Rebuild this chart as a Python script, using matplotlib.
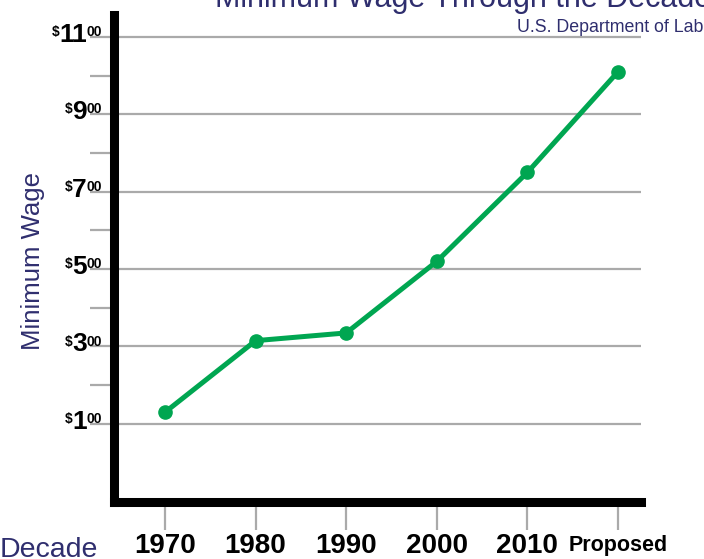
import matplotlib.pyplot as plt
from matplotlib.ticker import FixedLocator

# Data
decades = ["1970", "1980", "1990", "2000", "2010", "Proposed"]
wages = [1.30, 3.15, 3.35, 5.20, 7.50, 10.10]
major_dollars = [1, 3, 5, 7, 9, 11]
minor_dollars = [2, 4, 6, 8, 10]

navy = "#2f2e6e"
green = "#00a651"
grey = "#aaaaaa"
cond = ["Liberation Sans", "DejaVu Sans"]
plain = ["Liberation Sans", "DejaVu Sans"]

fig = plt.figure(figsize=(7.04, 5.59), dpi=100)
# axes box in pixels: left 114, right 640.5, top 14.5, bottom 502
ax = fig.add_axes([114 / 704, 57 / 559, 526.5 / 704, 487.5 / 559])

x = list(range(len(decades)))
ax.plot(x, wages, color=green, lw=3.6, marker="o", ms=9.5, zorder=5,
        solid_capstyle="round")

ax.set_xlim(-0.563, 5.248)
ax.set_ylim(-1.02, 11.58)

# spines: thick black left/bottom only
for s in ["top", "right"]:
    ax.spines[s].set_visible(False)
for s in ["left", "bottom"]:
    ax.spines[s].set_linewidth(6.5)
    ax.spines[s].set_capstyle("projecting")
    ax.spines[s].set_zorder(6)

# y ticks: grey gridlines at odd dollars, short grey ticks at even dollars
ax.yaxis.set_major_locator(FixedLocator(major_dollars))
ax.yaxis.set_minor_locator(FixedLocator(minor_dollars))
ax.tick_params(axis="y", which="both", length=17.5, width=1.6, color=grey,
               labelleft=False, direction="out")
ax.grid(axis="y", which="major", color=grey, lw=1.6, zorder=1)

# x ticks
ax.set_xticks(x)
ax.set_xticklabels([])
ax.tick_params(axis="x", length=20, width=1.6, color=grey, direction="out")
for xi, lab in zip(x, decades):
    size = 15.5 if lab == "Proposed" else 20
    dy = -23.5 if lab == "Proposed" else -22.5
    ax.annotate(lab, xy=(xi, 0), xycoords=("data", "axes fraction"),
                xytext=(0, dy), textcoords="offset points",
                ha="center", va="top", fontsize=size, fontweight="bold",
                family=cond, color="black", annotation_clip=False)

# y tick labels: $ and 00 as small superscripts around the dollar value
for v in major_dollars:
    main = ax.annotate(str(v), xy=(0, v), xycoords=("axes fraction", "data"),
                       xytext=(-19.5, -3.6), textcoords="offset points",
                       ha="right", va="baseline", fontsize=19,
                       fontweight="bold", family=cond, color="black",
                       annotation_clip=False)
    ax.annotate("$", xy=(0, 1), xycoords=main, xytext=(0, -1.5),
                textcoords="offset points", ha="right", va="top",
                fontsize=10, fontweight="bold", family=cond)
    ax.annotate("00", xy=(1, 1), xycoords=main, xytext=(0, -1.5),
                textcoords="offset points", ha="left", va="top",
                fontsize=10, fontweight="bold", family=cond)

# labels and titles
fig.text(0.0, 2 / 559, "Decade", fontsize=20.5, color=navy, family=plain,
         ha="left", va="baseline")
fig.text(33 / 704, 1 - 261 / 559, "Minimum Wage", fontsize=18.5, color=navy,
         family=plain, rotation=90, ha="center", va="center")
fig.text(215 / 704, 1 - 7.5 / 559, "Minimum Wage Through the Decades",
         fontsize=22, color=navy, family=plain, ha="left", va="baseline")
fig.text(517 / 704, 1 - 31.5 / 559, "U.S. Department of Labor",
         fontsize=12.8, color=navy, family=plain, ha="left", va="baseline")

fig.savefig("out.png", dpi=100)
